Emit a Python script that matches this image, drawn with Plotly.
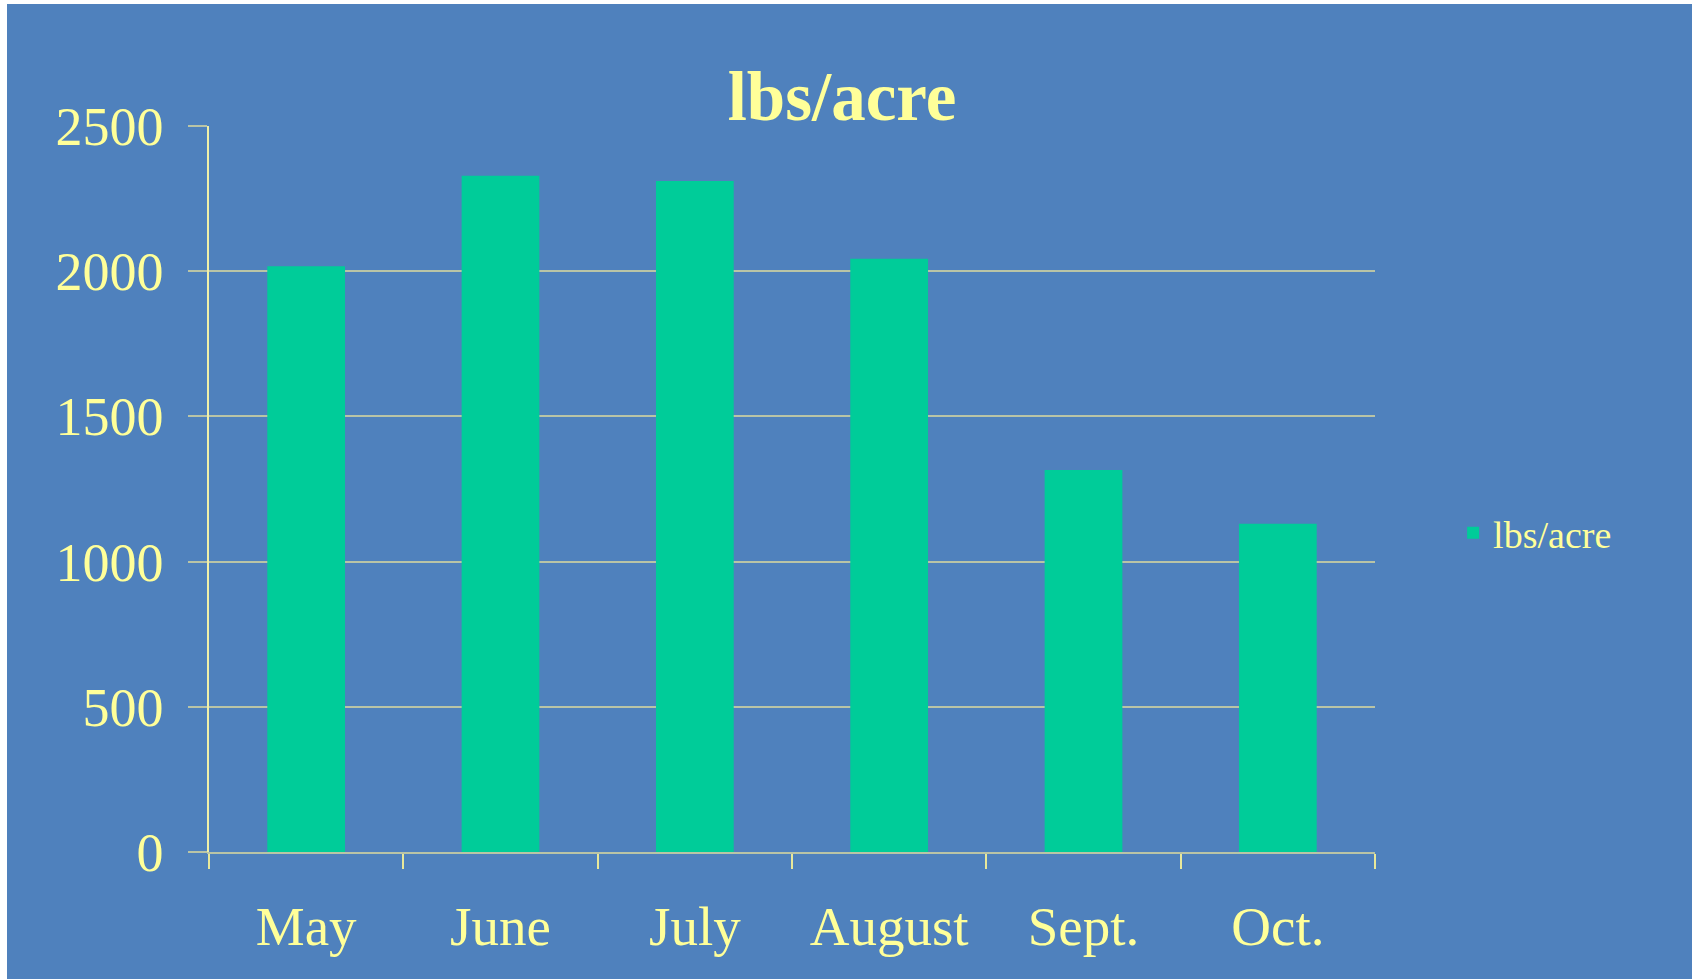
import plotly.graph_objects as go

categories = ["May", "June", "July", "August", "Sept.", "Oct."]
values = [2017, 2329, 2311, 2043, 1315, 1130]
series_name = "lbs/acre"
title_text = "lbs/acre"
y_ticks = [0, 500, 1000, 1500, 2000, 2500]

BG = "#4F81BD"
BAR = "#00CC99"
TXT = "#FFFF99"
GRID = "#B9C4A6"
FONT = "Liberation Serif, Times New Roman, serif"

W, H = 1692, 979
ML, MR, MT, MB = 209, 317, 126, 127
pw = W - ML - MR
ph = H - MT - MB

fig = go.Figure()
fig.add_trace(go.Bar(
    x=categories, y=values, name=series_name,
    marker=dict(color=BAR, line=dict(width=0)),
    width=0.4, showlegend=True,
))

# blue panel behind the chart (white border on top/left like the reference)
fig.add_shape(type="rect", xref="paper", yref="paper", layer="below",
              x0=(7 - ML) / pw, x1=(W - ML) / pw + 0.01,
              y0=-(MB + 5) / ph, y1=(H - MB - 4) / ph,
              fillcolor=BG, line=dict(width=0))

fig.update_layout(
    width=W, height=H,
    margin=dict(l=ML, r=MR, t=MT, b=MB, autoexpand=False),
    paper_bgcolor="white",
    plot_bgcolor=BG,
    font=dict(family=FONT, color=TXT),
    title=dict(text=f"<b>{title_text}</b>", x=(842 - ML) / pw, xref="paper",
               xanchor="center", y=1 - 96 / H, yanchor="middle",
               font=dict(size=69, color=TXT, family=FONT)),
    showlegend=True,
    legend=dict(x=1.067, y=(852 - 533) / ph, xanchor="left", yanchor="middle",
                bgcolor="rgba(0,0,0,0)", font=dict(size=38, color=TXT, family=FONT)),
    bargap=0.6,
)

fig.update_xaxes(
    type="category",
    showgrid=False,
    showline=True, linecolor=GRID, linewidth=1.5,
    ticks="outside", tickson="boundaries", ticklen=15, tickcolor="#E8E89A", tickwidth=1.5,
    tickfont=dict(size=55, color=TXT, family=FONT),
    ticklabelstandoff=25,
)
fig.update_yaxes(
    range=[0, 2500], tickvals=y_ticks,
    showgrid=True, gridcolor=GRID, gridwidth=1.5,
    zeroline=False,
    showline=True, linecolor="#F0F0A8", linewidth=1.5,
    ticks="outside", ticklen=19, tickcolor=GRID, tickwidth=1.5,
    tickfont=dict(size=54, color=TXT, family=FONT),
    ticklabelstandoff=14,
)

fig.write_html("out.html",
               config={"displayModeBar": False},
               post_script="document.body.style.margin='0';document.body.style.overflow='hidden';")
